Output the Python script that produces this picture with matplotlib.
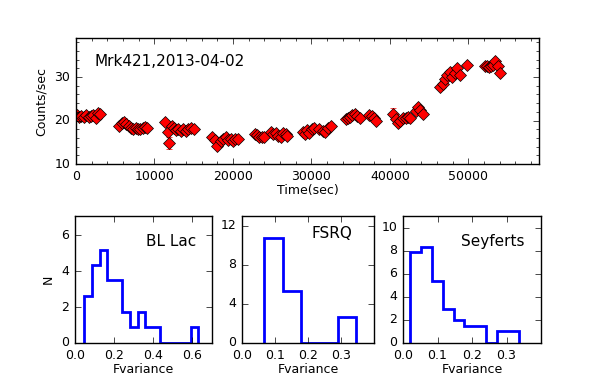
import matplotlib
matplotlib.use('Agg')
import matplotlib.pyplot as plt
import numpy as np
from matplotlib.ticker import MultipleLocator

# light curve of Mrk421, 2013-04-02
t_sec = [100, 400, 700, 1000, 1300, 1600, 1900, 2200, 2500, 2800, 3100,
         5500, 5800, 6100, 6400, 6700, 7000, 7300, 7600, 7900, 8200, 8500, 8800, 9100,
         11360, 11660, 11910, 12210, 12510, 12760, 13060, 13360, 13690, 14030, 14330, 14630, 15050,
         17300, 17720, 18020, 18450, 18780, 19120, 19420, 19720, 19970, 20270, 20690,
         22800, 23030, 23320, 23660, 23960,
         24800, 25140, 25440, 25780, 26080, 26410, 26710, 26920,
         28880, 29170, 29470, 29720, 30030, 30320, 31000, 31420, 31720, 32140, 32440,
         34380, 34660, 34900, 35200, 35530, 35830, 36170,
         37360, 37660, 37960, 38210,
         40420, 40750, 41050, 41350, 41680, 42020, 42310, 42620,
         43300, 43590, 43890, 44220,
         46440, 46770, 46980, 47280, 47620, 47960, 48260, 48600, 48890, 49820,
         52130, 52420, 52630, 52930, 53140, 53440, 53770, 54070]
counts = [21.2, 20.8, 21.1, 20.9, 21.2, 20.8, 21.0, 21.3, 20.5, 21.7, 21.4,
          18.8, 19.5, 19.6, 19.2, 18.8, 18.4, 18.1, 18.3, 18.0, 18.1, 18.3, 18.5, 18.2,
          19.6, 17.3, 14.8, 18.7, 18.2, 17.8, 18.1, 17.7, 18.0, 17.6, 18.0, 18.2, 18.0,
          16.2, 15.5, 14.2, 15.2, 15.7, 16.1, 15.5, 15.8, 15.3, 15.8, 15.7,
          16.85, 16.6, 16.3, 16.2, 16.1,
          17.3, 16.9, 17.1, 16.5, 16.1, 17.1, 16.85, 16.5,
          17.3, 16.85, 17.8, 17.1, 18.0, 18.4, 18.1, 17.7, 17.45, 18.2, 18.7,
          20.3, 20.7, 20.8, 21.2, 21.6, 21.0, 20.7,
          21.25, 21.0, 20.5, 20.0,
          21.6, 20.3, 19.4, 20.0, 20.5, 20.7, 20.9, 20.7,
          22.2, 23.1, 22.4, 21.6,
          27.7, 28.3, 29.6, 30.4, 31.1, 30.0, 30.9, 32.1, 30.4, 32.7,
          32.5, 32.5, 32.3, 32.5, 32.7, 33.7, 32.6, 30.9]
err = [0.4] * len(counts)
err[counts.index(19.6)] = 1.0
err[counts.index(14.8)] = 1.4
err[t_sec.index(40420)] = 1.3

# Fvariance histograms (bin edges, density)
bl_edges = [0.048, 0.087, 0.126, 0.164, 0.203, 0.242, 0.281, 0.320, 0.358,
            0.397, 0.436, 0.475, 0.514, 0.552, 0.591, 0.630]
bl_vals = [2.6, 4.35, 5.2, 3.5, 3.5, 1.75, 0.87, 1.75, 0.87, 0.87,
           0, 0, 0, 0, 0.87]
fsrq_edges = [0.068, 0.124, 0.179, 0.235, 0.290, 0.346]
fsrq_vals = [10.7, 5.35, 0, 0, 2.7]
sey_edges = [0.021, 0.052, 0.084, 0.115, 0.147, 0.178, 0.210, 0.241,
             0.273, 0.304, 0.336]
sey_vals = [7.85, 8.35, 5.4, 2.95, 1.95, 1.5, 1.5, 0, 1.0, 1.0]

plt.style.use('classic')
plt.rcParams['font.family'] = 'DejaVu Sans'

W, H = 599, 382
fig = plt.figure(figsize=(W / 100, H / 100), dpi=100, facecolor='white')

def px_axes(x0, x1, y0, y1):
    return fig.add_axes([x0 / W, (H - y1) / H, (x1 - x0) / W, (y1 - y0) / H])

ax = px_axes(76, 539, 38, 164)
ax.errorbar(t_sec, counts, yerr=err, fmt='D', color='red', ecolor='red',
            mfc='red', mec='black', mew=0.5, ms=6, capsize=2, elinewidth=1)
ax.set_xlim(0, 59000)
ax.set_ylim(10, 39)
ax.set_yticks([10, 20, 30])
ax.xaxis.set_minor_locator(MultipleLocator(2000))
ax.yaxis.set_minor_locator(MultipleLocator(2))
ax.tick_params(labelsize=9)
ax.set_xlabel('Time(sec)', fontsize=9, labelpad=1)
ax.set_ylabel('Counts/sec', fontsize=9)
ax.text(0.04, 0.81, 'Mrk421,2013-04-02', transform=ax.transAxes, fontsize=11,
        va='center')

specs = [
    ((75, 212), bl_edges, bl_vals, 'BL Lac', (0, 0.7), [0, 0.2, 0.4, 0.6],
     (0, 7.07), [0, 2, 4, 6], (0.52, 0.80)),
    ((242, 374), fsrq_edges, fsrq_vals, 'FSRQ', (0, 0.4), [0, 0.1, 0.2, 0.3],
     (0, 13), [0, 4, 8, 12], (0.53, 0.86)),
    ((403, 541), sey_edges, sey_vals, 'Seyferts', (0, 0.4), [0, 0.1, 0.2, 0.3],
     (0, 11), [0, 2, 4, 6, 8, 10], (0.42, 0.80)),
]
for i, (xs, edges, vals, name, xl, xt, yl, yt, tp) in enumerate(specs):
    a = px_axes(xs[0], xs[1], 216, 343)
    a.stairs(vals, edges, color='blue', linewidth=2, baseline=0)
    a.set_xlim(*xl)
    a.set_xticks(xt)
    a.set_ylim(*yl)
    a.set_yticks(yt)
    a.tick_params(labelsize=9)
    a.set_xlabel('Fvariance', fontsize=9, labelpad=1)
    if i == 0:
        a.set_ylabel('N', fontsize=9)
    a.text(tp[0], tp[1], name, transform=a.transAxes, fontsize=11, va='center')

plt.savefig('out.png', dpi=100, facecolor='white')
